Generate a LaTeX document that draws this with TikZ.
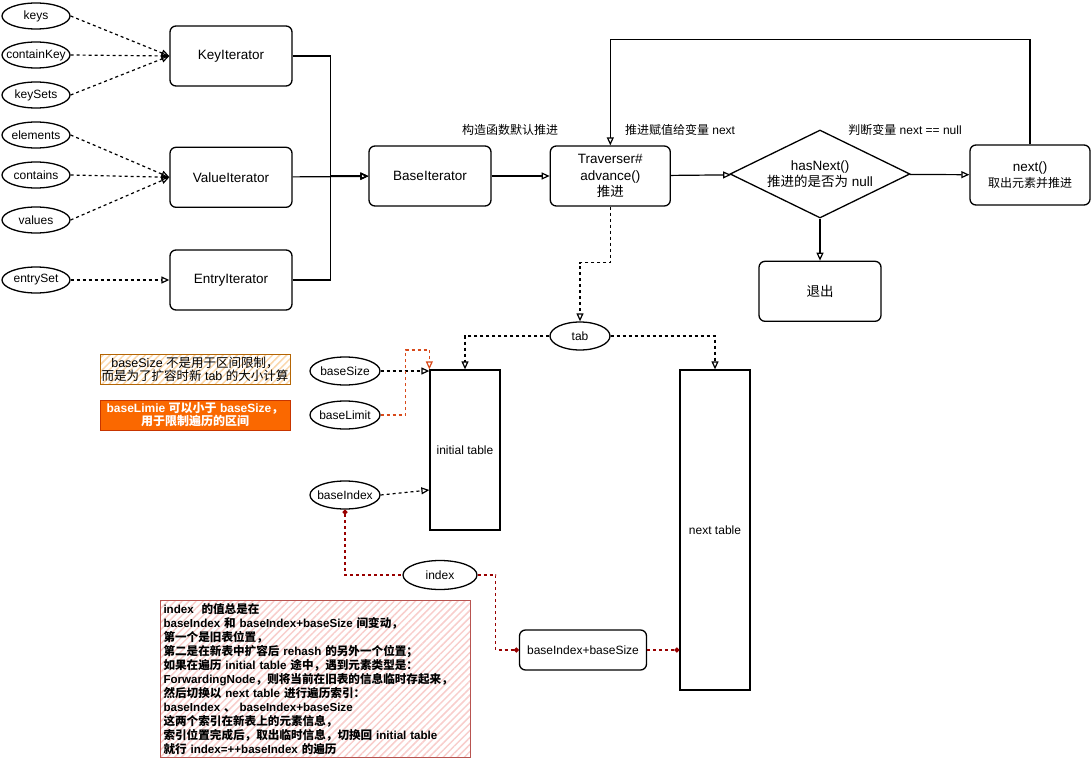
\documentclass[tikz,border=0pt]{standalone}
\usepackage{fontspec}
\setmainfont{Liberation Sans}
\newfontfamily\zhfont{Noto Sans CJK SC}
\newcommand{\zh}[1]{{\zhfont #1}}
\usetikzlibrary{arrows.meta,positioning,shapes.geometric,patterns.meta}
\definecolor{notered}{HTML}{B85450}
\definecolor{notepink}{HTML}{F8CECC}
\definecolor{noteorange}{HTML}{B46504}
\definecolor{notepeach}{HTML}{FAD7AC}
\definecolor{boxorange}{HTML}{FA6800}
\definecolor{boxorangedark}{HTML}{C73500}
\definecolor{linkred}{HTML}{990000}
\definecolor{linkorange}{HTML}{D84A1B}

\begin{document}
\begin{tikzpicture}[
    x=1pt, y=-1pt,
    font=\fontsize{13.5}{16.5}\selectfont,
    box/.style={rounded corners=6pt, draw, line width=1.3pt, align=center, minimum width=122pt, minimum height=60pt},
    oval/.style={ellipse, draw, line width=1.3pt, inner xsep=-8pt, inner ysep=0pt, minimum width=68pt, minimum height=26pt, font=\fontsize{12}{14}\selectfont},
    tablebox/.style={draw, line width=1.3pt, minimum width=70pt, font=\fontsize{12}{14}\selectfont},
    flowtext/.style={inner sep=1pt, font=\fontsize{12}{14}\selectfont},
    arrow/.style={-{Triangle[open, length=8pt, width=7pt]}, line width=1.2pt},
    darrow/.style={arrow, dashed},
    link/.style={linkred, dashed, line width=1.2pt}
  ]
    \useasboundingbox (0,0) rectangle (1091,762);

    % callers of the iterators
    \node[oval] (keys) at (36,16) {keys};
    \node[oval] (ckey) at (36,55) {containKey};
    \node[oval] (ksets) at (36,95) {keySets};
    \node[oval] (elems) at (36,135) {elements};
    \node[oval] (cont) at (36,175) {contains};
    \node[oval] (vals) at (36,220) {values};
    \node[oval] (eset) at (36,280) {entrySet};

    \node[box] (ki) at (231,56) {KeyIterator};
    \node[box, below=60pt of ki] (vi) {ValueIterator};
    \node[box] (ei) at (231,280) {EntryIterator};
    \node[box] (bi) at (430,176) {BaseIterator};
    \node[box, right=58pt of bi, minimum width=120pt] (tr) {Traverser\#\\advance()\\\zh{推进}};
    \node[diamond, draw, line width=1.3pt, aspect=2, inner sep=0pt, minimum width=180pt, minimum height=88pt, align=center] (hn) at (820,174) {hasNext()\\\zh{推进的是否为} null};
    \node[box, minimum width=120pt] (nx) at (1030,175) {next()\\{\fontsize{12}{14}\selectfont\zh{取出元素并推进}}};
    \node[box, below=42pt of hn] (exit) {\zh{退出}};

    \node[flowtext] (lbadv) at (510,130) {\zh{构造函数默认推进}};
    \node[flowtext] (lbnext) at (680,130) {\zh{推进赋值给变量} next};
    \node[flowtext] (lbnull) at (905,130) {\zh{判断变量} next == null};

    % tables
    \node[oval, minimum width=60pt, minimum height=28pt] (tab) at (580,336) {tab};
    \node[tablebox, minimum height=160pt] (it) at (465,450) {initial table};
    \node[tablebox, minimum height=320pt] (nt) at (715,530) {next table};
    \node[oval, minimum width=70pt, minimum height=28pt] (bs) at (345,371) {baseSize};
    \node[oval, minimum width=70pt, minimum height=28pt] (bl) at (345,415) {baseLimit};
    \node[oval, minimum width=70pt, minimum height=28pt] (bx) at (345,495) {baseIndex};
    \node[oval, minimum width=74pt, minimum height=29pt] (ix) at (440,575) {index};
    \node[box, minimum width=127pt, minimum height=40pt, font=\fontsize{12}{14}\selectfont] (bb) at (583,650) {baseIndex+baseSize};

    % notes
    \node[draw=noteorange, line width=1pt, pattern={Lines[angle=45, distance=5pt, line width=1.5pt]}, pattern color=notepeach, minimum width=190pt, minimum height=30pt, align=center, inner sep=1pt, font=\fontsize{12.5}{13}\selectfont] (nsize) at (195,369) {baseSize \zh{不是用于区间限制，}\\\zh{而是为了扩容时新} tab \zh{的大小计算}};
    \node[draw=boxorangedark, fill=boxorange, text=white, minimum width=190pt, minimum height=30pt, align=center, inner sep=1pt, font=\bfseries\fontsize{12}{13}\selectfont] (nlimit) at (195,415) {baseLimie \zh{可以小于} baseSize\zh{，}\\\zh{用于限制遍历的区间}};
    \node[draw=notered, line width=1pt, pattern={Lines[angle=45, distance=5pt, line width=1.5pt]}, pattern color=notepink, text width=304pt, align=left, inner sep=3pt, anchor=north west, font=\bfseries\fontsize{11.6}{14}\selectfont] (nindex) at (160,600) {index\ \ \zh{的值总是在}\\
      baseIndex \zh{和} baseIndex+baseSize \zh{间变动，}\\
      \zh{第一个是旧表位置，}\\
      \zh{第二是在新表中扩容后} rehash \zh{的另外一个位置；}\\
      \zh{如果在遍历} initial table \zh{途中，遇到元素类型是：}\\
      ForwardingNode\zh{，则将当前在旧表的信息临时存起来，}\\
      \zh{然后切换以} next table \zh{进行遍历索引：}\\
      baseIndex \zh{、} baseIndex+baseSize\\
      \zh{这两个索引在新表上的元素信息，}\\
      \zh{索引位置完成后，取出临时信息，切换回} initial table\\
      \zh{就行} index=++baseIndex \zh{的遍历}};

    % connectors
    \foreach \src in {keys,ckey,ksets} \draw[darrow] (\src.east) -- (ki.west);
    \foreach \src in {elems,cont,vals} \draw[darrow] (\src.east) -- (vi.west);
    \draw[darrow] (eset) -- (ei);
    \draw[arrow] (ki.east) -- ++(38,0) |- (bi.west);
    \draw[arrow] (vi) -- (bi);
    \draw[arrow] (ei.east) -- ++(38,0) |- (bi.west);
    \draw[arrow] (bi) -- (tr);
    \draw[arrow] (tr) -- (hn);
    \draw[arrow] (hn) -- (nx);
    \draw[arrow] (hn) -- (exit);
    \draw[arrow] (nx.north) -- ++(0,-105) -| (tr.north);
    \draw[darrow] (tr.south) -- ++(0,56) -| (tab.north);
    \draw[darrow] (tab.west) -| (it.north);
    \draw[darrow] (tab.east) -| (nt.north);
    \draw[darrow] (bs.east) -- (bs.east -| it.west);
    \draw[darrow, draw=linkorange] (bl.east) -- ++(25,0) -- ++(0,-65) -| (it.north west);
    \draw[darrow] (bx.east) -- ([yshift=-40pt]it.west);
    \draw[link, {Circle[length=5pt]}-] (bx.south) |- (ix.west);
    \draw[link, -{Circle[length=5pt]}] (ix.east) -- ++(18,0) |- (bb.west);
    \draw[link, -{Circle[length=5pt]}] (bb.east) -- (bb.east -| nt.west);
  \end{tikzpicture}
\end{document}
